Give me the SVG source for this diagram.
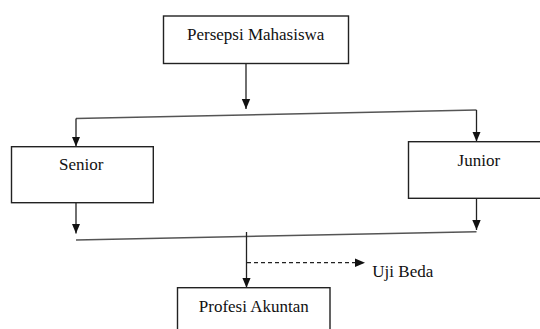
<svg xmlns="http://www.w3.org/2000/svg" width="540" height="329" viewBox="0 0 540 329">
<defs>
<style>
.box{fill:#fff;stroke:#222;stroke-width:1.4}
.lbl{font-size:17px;fill:#111;text-anchor:middle}
.ln{fill:none;stroke:#222;stroke-width:1.3}
.sl{fill:none;stroke:#555;stroke-width:1.6}
.dash{fill:none;stroke:#222;stroke-width:1.2;stroke-dasharray:4 3}
</style>
<marker id="ah" markerUnits="userSpaceOnUse" markerWidth="10" markerHeight="10" viewBox="0 0 10 10" refX="10" refY="5" orient="auto">
<path d="M0,0.8 L10,5 L0,9.2 Z" fill="#111"/>
</marker>
</defs>
<rect width="540" height="329" fill="#fff"/>
<g id="connectors">
<line class="ln" x1="246" y1="63.5" x2="246" y2="109" marker-end="url(#ah)"/>
<line class="sl" x1="76" y1="118.5" x2="476.5" y2="110"/>
<line class="ln" x1="76" y1="118.5" x2="76" y2="146.5" marker-end="url(#ah)"/>
<line class="ln" x1="476.5" y1="110" x2="476.5" y2="141.5" marker-end="url(#ah)"/>
<line class="ln" x1="76" y1="202.7" x2="76" y2="233.5" marker-end="url(#ah)"/>
<line class="ln" x1="476.5" y1="198.3" x2="476.5" y2="230" marker-end="url(#ah)"/>
<line class="sl" x1="76" y1="240" x2="476.5" y2="231.7"/>
<line class="ln" x1="246.5" y1="232" x2="246.5" y2="287.7" marker-end="url(#ah)"/>
<line class="dash" x1="247" y1="262.7" x2="365" y2="262.7" marker-end="url(#ah)"/>
</g>
<g font-family="Liberation Serif, serif">
<g id="persepsi">
<rect class="box" x="163.5" y="16" width="185" height="47.5"/>
<text class="lbl" x="255.7" y="40">Persepsi Mahasiswa</text>
</g>
<g id="senior">
<rect class="box" x="11.5" y="146.7" width="141.8" height="56"/>
<text class="lbl" x="81.3" y="170">Senior</text>
</g>
<g id="junior">
<rect class="box" x="408.5" y="141.7" width="140" height="56.6"/>
<text class="lbl" x="478.8" y="165.7">Junior</text>
</g>
<g id="ujibeda">
<text class="lbl" x="402.8" y="276.7">Uji Beda</text>
</g>
<g id="profesi">
<rect class="box" x="177.5" y="287.7" width="152.5" height="50"/>
<text class="lbl" x="253.8" y="312.3">Profesi Akuntan</text>
</g>
</g>
</svg>
